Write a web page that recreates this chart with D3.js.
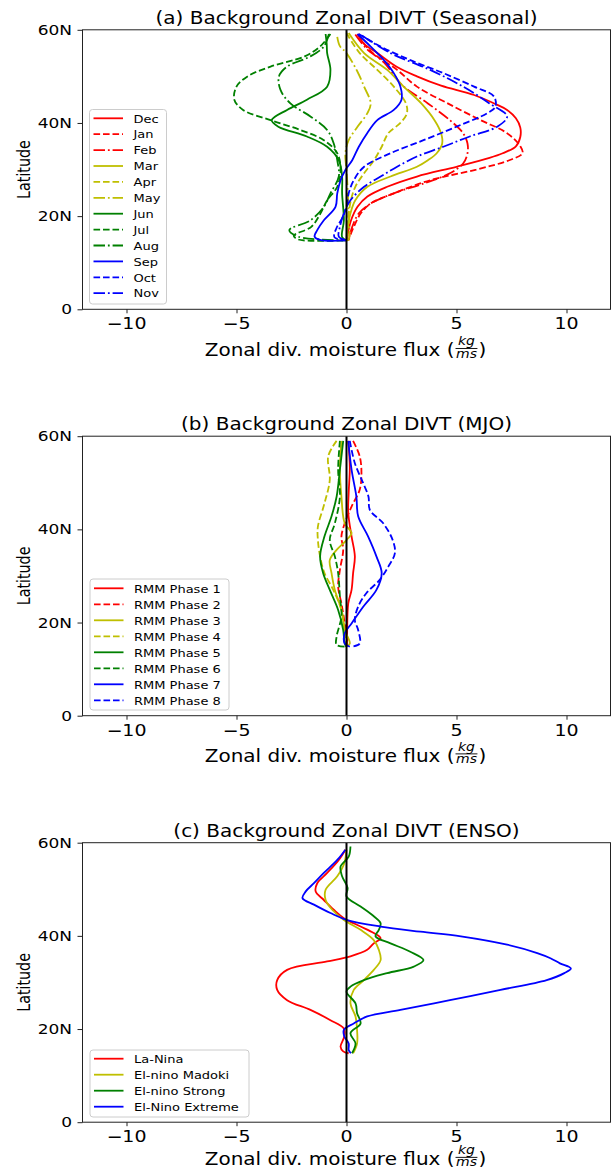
<!DOCTYPE html>
<html><head><meta charset="utf-8">
<script src="https://cdn.jsdelivr.net/npm/d3@7"></script>
<style>html,body{margin:0;padding:0;background:#fff;}svg{display:block;font-family:"DejaVu Sans",sans-serif;}</style>
</head><body>
<svg id="chart" width="615" height="1171"></svg>
<script>
// ---------- tick labels ----------
const fluxTicks = [-10, -5, 0, 5, 10];
const fluxLabels = ["\u221210", "\u22125", "0", "5", "10"];
const latTicks = [0, 20, 40, 60];
const latLabels = ["0", "20N", "40N", "60N"];

// ---------- (a) Seasonal : [latitude, flux] ----------
const seasonalNames = ["Dec","Jan","Feb","Mar","Apr","May","Jun","Jul","Aug","Sep","Oct","Nov"];
const seasonalColors = ["r","r","r","y","y","y","g","g","g","b","b","b"];
const seasonalStyles = ["solid","dashed","dashdot","solid","dashed","dashdot","solid","dashed","dashdot","solid","dashed","dashdot"];
const dec = [[59.1,0.5],[57,0.8],[55,1.4],[52,2.3],[50,3.2],[48,4.3],[46,5.8],[44,6.8],[42.8,7.3],[41,7.7],[39,7.9],[37,7.9],[35,7.7],[33.5,7.1],[32.5,6.5],[30.6,5.0],[28.5,3.2],[26.3,1.85],[24.2,0.95],[22,0.5],[19,0.2],[16,0.05],[14.8,0]];
const jan = [[59.1,0.55],[57,0.8],[55,1.2],[53,1.8],[51.4,2.3],[47.8,3.2],[44.2,4.6],[40.6,6.1],[37.8,7.3],[35,7.9],[33.5,8.0],[32,7.4],[30,5.9],[27.7,3.8],[24.9,2.15],[22.7,1.1],[20.6,0.65],[17.7,0.33],[15.2,0.12],[14.8,0.1]];
const feb = [[59,0.4],[56,0.9],[53,1.7],[50,2.2],[47.8,2.6],[44.2,3.7],[40.6,4.7],[37.8,5.3],[35.6,5.5],[33.5,5.5],[31.3,5.3],[29.2,4.7],[27,3.5],[24.9,2.15],[22.7,1.1],[20.6,0.56],[17.7,0.26],[15.2,0.1],[14.8,0.05]];
const mar = [[59.3,0.1],[55,0.8],[51.4,1.85],[47.8,2.6],[44.2,3.4],[40.6,4.0],[37.8,4.3],[35.6,4.35],[33.5,4.1],[32,3.7],[30.6,3.2],[28.5,2.0],[26.3,0.95],[23.4,0.4],[20.6,0.18],[17.7,0.06],[14.8,0]];
const apr = [[59.3,0],[55,0.6],[51.4,1.4],[47.8,2.15],[44.2,2.7],[42.1,2.75],[40,2.45],[37.8,1.9],[34.9,1.6],[32,1.25],[29.2,0.8],[26.3,0.4],[23.4,0.2],[19,0.06],[14.8,0]];
const may = [[58.5,-0.42],[56.5,-0.3],[55,0],[51,0.5],[47.8,0.8],[44.2,1.1],[42.1,0.95],[39.2,0.5],[36.3,0.1],[33.5,-0.05],[29.9,0],[26,0.05],[20,0.1],[15,0.1],[14.8,0]];
const jun = [[59.1,-0.95],[57,-0.9],[55,-0.88],[51.4,-0.73],[47.8,-0.88],[45,-1.8],[42.8,-2.7],[40.6,-3.4],[39.2,-3.1],[37.1,-1.8],[34.9,-0.88],[32,-0.35],[28.5,-0.2],[24.9,-0.2],[19.1,-0.12],[15.5,-0.2],[14.8,0]];
const jul = [[59.1,-0.73],[56.4,-1.2],[54.3,-1.9],[52.1,-3.45],[50,-4.5],[47.8,-5.0],[45,-5.1],[42.8,-4.7],[40.6,-3.45],[38.5,-2.1],[36.3,-1.03],[33.5,-0.42],[29.9,-0.27],[26.3,-0.42],[23.4,-0.88],[20.6,-1.18],[17.7,-1.6],[15.8,-2.4],[15.0,-2.2],[14.8,0]];
const aug = [[59.1,-0.8],[56.4,-1.03],[54.3,-1.64],[52.1,-2.7],[50,-3.07],[47.1,-3.0],[44.2,-2.55],[41.4,-1.64],[38.5,-0.88],[35.6,-0.58],[32,-0.42],[28.5,-0.35],[24.9,-0.73],[22,-1.03],[19.1,-1.64],[17,-2.6],[15.6,-2.2],[14.8,0]];
const sep = [[59.1,0.5],[56.4,1.1],[53.5,1.7],[50.7,2.15],[47.8,2.45],[45,2.5],[42.8,2.15],[40.6,1.4],[37.8,0.94],[34.9,0.56],[32,0.26],[29.9,-0.05],[27.7,-0.27],[24.9,-0.42],[22,-0.5],[19.1,-1.03],[17,-1.33],[15.6,-1.45],[14.9,-1.2],[14.8,0]];
const oct = [[59.1,0.56],[56.4,1.55],[53.5,2.9],[50.7,4.4],[47.8,5.8],[45.7,6.7],[43.5,6.77],[42.1,6.4],[39.2,5.0],[36.3,3.5],[33.5,2.0],[30.6,0.8],[27.7,0.33],[24.9,0.1],[22,0],[19.5,-0.2],[17.5,-0.45],[15.5,-0.55],[14.8,0]];
const nov = [[58.8,0.7],[55,2.0],[51.4,3.8],[47.8,5.3],[44.2,6.5],[41.4,7.3],[39.2,6.85],[37.1,5.6],[34.9,4.4],[32.8,3.2],[30.6,2.3],[28.5,1.55],[26.3,0.8],[23.4,0.18],[20.6,-0.12],[17.7,-0.3],[15.6,-0.35],[14.8,0]];
const seasonalData = [dec, jan, feb, mar, apr, may, jun, jul, aug, sep, oct, nov];

// ---------- (b) MJO ----------
const mjoNames = ["RMM Phase 1","RMM Phase 2","RMM Phase 3","RMM Phase 4","RMM Phase 5","RMM Phase 6","RMM Phase 7","RMM Phase 8"];
const mjoColors = ["r","r","y","y","g","g","b","b"];
const mjoStyles = ["solid","dashed","solid","dashed","solid","dashed","solid","dashed"];
const p1 = [[59,0.08],[53.3,0.15],[48,0.1],[43.5,0.08],[38.5,0.23],[34.2,0.38],[30.6,0.3],[27,0.23],[24.1,0.08],[18.4,0.03],[14.8,0.03]];
const p2 = [[59,0.3],[55.7,0.6],[52.1,0.68],[48.5,0.6],[44.9,0.23],[41.3,-0.08],[38.5,-0.23],[35.6,-0.15],[31.3,-0.3],[27.7,-0.38],[24.1,-0.23],[19.8,-0.08],[15.5,0.03],[14.8,0]];
const p3 = [[59,-0.23],[52.8,-0.3],[47,-0.23],[41.3,-0.08],[39.2,0.23],[37.7,0],[35.6,-0.45],[33.4,-0.76],[30.6,-0.68],[27,-0.53],[22.7,-0.23],[18.4,-0.08],[15.5,0.15],[14.8,0]];
const p4 = [[59,-0.45],[55.7,-0.83],[50.6,-0.76],[45.6,-1.0],[40.6,-1.3],[37.7,-1.3],[34.2,-1.2],[30.6,-1.0],[27,-0.6],[22.7,-0.23],[18.4,-0.08],[15.5,0],[14.8,0]];
const p5 = [[59,-0.15],[52.8,-0.3],[47,-0.45],[42.8,-0.68],[38.5,-1.0],[34.2,-1.2],[30.6,-1.06],[27,-0.76],[22.7,-0.38],[18.4,-0.15],[15.5,-0.08],[14.8,0]];
const p6 = [[59,-0.3],[52.8,-0.38],[47,-0.3],[41.3,-0.53],[37.7,-0.76],[34.2,-0.53],[30.6,-0.38],[25.6,-0.3],[21.3,-0.23],[17,-0.45],[15.2,-0.45],[14.8,0]];
const p7 = [[59,0.08],[52.8,0.23],[47,0.45],[42.8,0.53],[38.5,0.98],[34.2,1.36],[30.6,1.6],[27,1.36],[23.4,0.76],[19.8,0.23],[17.7,-0.08],[15.5,-0.08],[14.8,0.15]];
const p8 = [[59,0.15],[54.2,0.38],[49.9,0.76],[47,1.0],[44.2,1.06],[41.3,1.67],[37.7,2.1],[34.9,2.2],[32,1.9],[29.1,1.5],[26.3,0.9],[23.4,0.53],[20.5,0.38],[18.4,0.53],[15.5,0.6],[14.8,0.2]];
const mjoData = [p1, p2, p3, p4, p5, p6, p7, p8];

// ---------- (c) ENSO ----------
const ensoNames = ["La-Nina","El-nino Madoki","El-nino Strong","El-Nino Extreme"];
const ensoColors = ["r","y","g","b"];
const ensoStyles = ["solid","solid","solid","solid"];
const laNina = [[58.5,-0.05],[56.3,-0.35],[53.5,-0.88],[51.3,-1.33],[49.5,-1.4],[47.7,-1.03],[45.6,-0.58],[43.8,-0.12],[42,0.64],[40.6,1.24],[39.5,1.55],[38.4,1.24],[37,0.94],[35.6,0.18],[34.5,-0.88],[32.7,-2.7],[30.5,-3.15],[28.4,-3.15],[26.2,-2.7],[24.1,-1.64],[21.9,-0.73],[20.1,-0.12],[18.4,-0.1],[16.2,-0.27],[15.2,-0.15],[14.8,0.1]];
const madoki = [[58.5,0],[55.6,-0.1],[52.8,-0.42],[49.9,-0.95],[47.7,-0.95],[45.6,-0.65],[43.4,-0.12],[41.3,0.64],[39.1,1.24],[37,1.47],[34.8,1.55],[32.7,1.24],[30.5,0.79],[28.4,0.33],[25.5,0.18],[22.7,0.41],[19.8,0.48],[16.9,0.48],[14.8,0.3]];
const strong = [[59.2,0.18],[57,0.1],[54.9,-0.27],[52.8,-0.2],[50.3,0.05],[48.5,0],[46.3,0.64],[44.2,1.24],[42.7,1.55],[41.3,1.47],[39.9,1.32],[38.4,2.0],[36.6,2.9],[34.8,3.5],[33.4,3.06],[32,1.85],[30.5,0.79],[29.1,0.18],[28,0],[25.5,0.41],[23.4,0.48],[21.2,0.64],[19.1,0.18],[16.9,0.41],[14.8,0.25]];
const extreme = [[58.5,-0.05],[56.3,-0.42],[53.5,-1.03],[51.3,-1.48],[49.5,-1.86],[48.1,-2.0],[46.7,-1.48],[44.9,-0.73],[43.4,0.03],[42,1.55],[40.9,3.36],[39.9,5.2],[38.1,7.3],[36.3,8.67],[35.2,9.27],[34.1,9.7],[33,10.2],[32,9.9],[30.5,9.1],[28.4,7.0],[26.2,4.7],[24.1,2.45],[22.7,0.94],[21.2,0.33],[19.8,-0.12],[18.4,-0.1],[16.9,0.1],[15.5,0.1],[14.8,0.2]];
const ensoData = [laNina, madoki, strong, extreme];

// ---------- rendering ----------
const colorMap = {r:"#ff0000", y:"#bfbf00", g:"#008000", b:"#0000ff"};
const dashMap = {solid:null, dashed:"6.6,2.9", dashdot:"11.5,2.9,1.8,2.9"};
const SY = 0.84;
const svg = d3.select("#chart");
svg.append("rect").attr("width",615).attr("height",1171).attr("fill","#fff");

function txt(parent, x, y, s, size, anchor) {
  return parent.append("text")
    .attr("transform", `translate(${x},${y}) scale(1,${SY})`)
    .attr("font-size", size).attr("text-anchor", anchor || "middle")
    .attr("fill", "#000").text(s);
}

const panels = [
  {top:29.8, title:"(a) Background Zonal DIVT (Seasonal)", names:seasonalNames, colors:seasonalColors, styles:seasonalStyles, data:seasonalData,
   leg:{x:89.5, y:109.5, w:77, h:194.5, row0:118.3, dy:15.9}, xlab:47},
  {top:436.2, title:"(b) Background Zonal DIVT (MJO)", names:mjoNames, colors:mjoColors, styles:mjoStyles, data:mjoData,
   leg:{x:90, y:579, w:139, h:131, row0:588.3, dy:16}, xlab:46},
  {top:842.7, title:"(c) Background Zonal DIVT (ENSO)", names:ensoNames, colors:ensoColors, styles:ensoStyles, data:ensoData,
   leg:{x:90, y:1050, w:159, h:67, row0:1058.7, dy:16}, xlab:43}
];

const x = d3.scaleLinear().domain([-12, 12]).range([82.5, 610.5]);
const H = 279.5;

panels.forEach(p => {
  const g = svg.append("g");
  const y = d3.scaleLinear().domain([0, 60]).range([p.top + H, p.top]);

  // lines
  const line = d3.line().x(d => x(d[1])).y(d => y(d[0])).curve(d3.curveCatmullRom.alpha(0.5));
  p.data.forEach((ser, i) => {
    g.append("path").attr("d", line(ser)).attr("fill","none")
      .attr("stroke", colorMap[p.colors[i]]).attr("stroke-width", 1.8)
      .attr("stroke-dasharray", dashMap[p.styles[i]]).attr("stroke-linejoin","round");
  });

  // zero line
  g.append("line").attr("x1", x(0)).attr("x2", x(0)).attr("y1", y(0)).attr("y2", y(60))
    .attr("stroke","#000").attr("stroke-width",2);

  // frame
  g.append("rect").attr("x", x(-12)).attr("y", y(60)).attr("width", x(12)-x(-12)).attr("height", H)
    .attr("fill","none").attr("stroke","#222").attr("stroke-width",1);

  // axes (tick marks)
  const xa = g.append("g").attr("transform",`translate(0,${y(0)})`)
    .call(d3.axisBottom(x).tickValues(fluxTicks).tickSize(4).tickFormat(""));
  const ya = g.append("g").attr("transform",`translate(${x(-12)},0)`)
    .call(d3.axisLeft(y).tickValues(latTicks).tickSize(5).tickFormat(""));
  [xa, ya].forEach(a => { a.select(".domain").remove(); a.selectAll("line").attr("stroke","#222").attr("stroke-width",1); });

  // tick labels
  fluxTicks.forEach((t, i) => txt(g, x(t), y(0) + 20, fluxLabels[i], 19, "middle"));
  latTicks.forEach((t, i) => txt(g, 72, y(t) + 5, latLabels[i], 17, "end"));

  // title
  txt(g, (x(-12)+x(12))/2, p.top - 6, p.title, 20, "middle");

  // y label
  g.append("text").attr("transform", `translate(29.5,${p.top + H/2}) scale(1,${SY}) rotate(-90)`)
    .attr("font-size", 17).attr("text-anchor","middle").attr("fill","#000").text("Latitude");

  // x label with fraction
  const xl = g.append("g").attr("transform", `translate(345.5,${y(0) + p.xlab}) scale(1,${SY})`);
  const main = xl.append("text").attr("font-size",20).attr("fill","#000").text("Zonal div. moisture flux (");
  const kg = xl.append("text").attr("font-size",14).attr("font-style","italic").attr("fill","#000").attr("text-anchor","middle").text("kg");
  const ms = xl.append("text").attr("font-size",14).attr("font-style","italic").attr("fill","#000").attr("text-anchor","middle").text("ms");
  const close = xl.append("text").attr("font-size",20).attr("fill","#000").text(")");
  const w1 = main.node().getComputedTextLength();
  const wf = Math.max(kg.node().getComputedTextLength(), ms.node().getComputedTextLength()) + 3;
  const w2 = close.node().getComputedTextLength();
  const W = w1 + wf + w2;
  const x0 = -W/2;
  main.attr("x", x0);
  const fc = x0 + w1 + wf/2;
  kg.attr("x", fc).attr("y", -13);
  ms.attr("x", fc).attr("y", 1.5);
  xl.append("line").attr("x1", fc - wf/2 + 1).attr("x2", fc + wf/2 - 1).attr("y1", -9.3).attr("y2", -9.3)
    .attr("stroke","#000").attr("stroke-width",1);
  close.attr("x", x0 + w1 + wf);

  // legend
  const L = p.leg;
  g.append("rect").attr("x", L.x).attr("y", L.y).attr("width", L.w).attr("height", L.h).attr("rx", 3)
    .attr("fill","#fff").attr("fill-opacity",0.8).attr("stroke","#cccccc").attr("stroke-width",1);
  p.names.forEach((n, i) => {
    const cy = L.row0 + i * L.dy;
    g.append("line").attr("x1", L.x + 4).attr("x2", L.x + 33.5).attr("y1", cy).attr("y2", cy)
      .attr("stroke", colorMap[p.colors[i]]).attr("stroke-width", 1.8)
      .attr("stroke-dasharray", dashMap[p.styles[i]]);
    txt(g, L.x + 44, cy + 4.2, n, 13, "start");
  });
});
</script>
</body></html>
